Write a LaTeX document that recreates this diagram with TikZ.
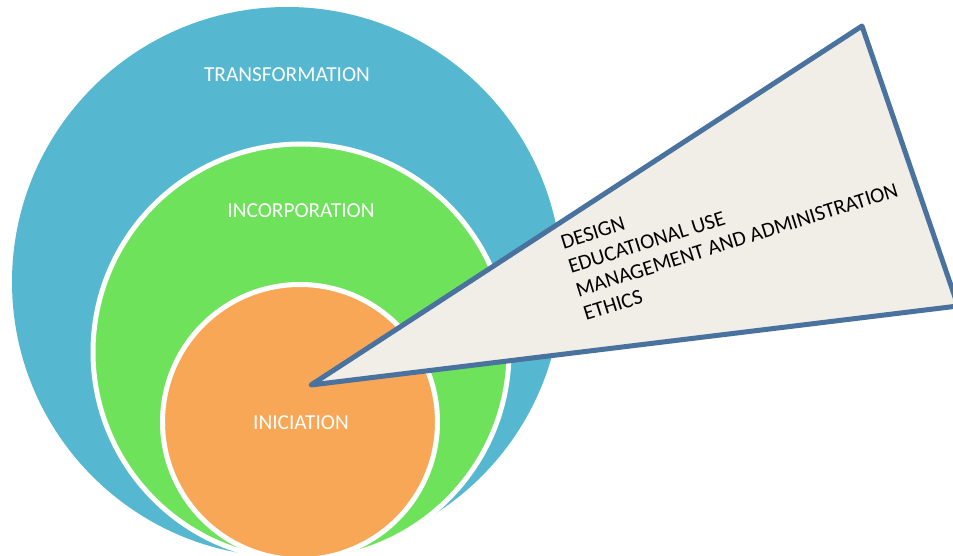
\documentclass[tikz,border=0pt]{standalone}
\usepackage{fontspec}
\setmainfont{Carlito}
\definecolor{ringblue}{HTML}{56B8D0}
\definecolor{ringgreen}{HTML}{6EE25A}
\definecolor{ringorange}{HTML}{F8A756}
\definecolor{callfill}{HTML}{F0EEE6}
\definecolor{callline}{HTML}{49729E}
\tikzset{
  ring/.style={draw=white, line width=3.75pt},
  ringlabel/.style={text=white, font=\fontsize{16}{19}\selectfont, inner sep=0pt},
  itemtext/.style={text=black, font=\fontsize{16}{18.75}\selectfont, inner sep=0pt, align=left, anchor=north west, rotate=17.5},
  callout/.style={fill=callfill, draw=callline, line width=3.75pt, line join=round}
}
\begin{document}
\begin{tikzpicture}[x=0.75pt,y=-0.75pt]
\useasboundingbox (0,0) rectangle (953,556);
\clip (0,0) rectangle (953,556);
% rings
\fill[ringblue] (287,282) circle[radius=275];
\fill[ringgreen] (301,352) circle[radius=208];
\draw[ring] (301,352) circle[radius=208];
\fill[ringorange] (300,422) circle[radius=137.5];
\draw[ring] (300,422) circle[radius=137.5];
% callout
\coordinate (tip) at (311,385);
\coordinate (apex) at (862,26);
\coordinate (corner) at (958,306);
\draw[callout] (tip) -- (apex) -- (corner) -- cycle;
% items
\node[itemtext] (items) at (559,236) {DESIGN\\EDUCATIONAL USE\\MANAGEMENT AND ADMINISTRATION\\ETHICS};
% labels
\node[ringlabel] (transf) at (287,75) {TRANSFORMATION};
\node[ringlabel] (incorp) at (301,211) {INCORPORATION};
\node[ringlabel] (inic) at (301,423) {INICIATION};
\end{tikzpicture}
\end{document}
